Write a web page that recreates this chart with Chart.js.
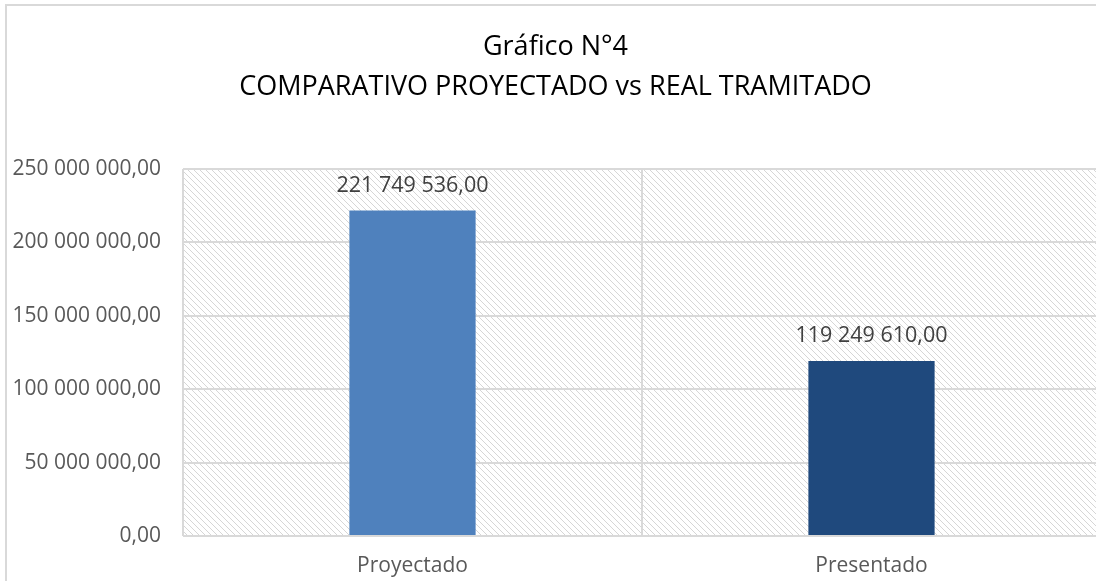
<!DOCTYPE html>
<html>
<head>
<meta charset="utf-8">
<script src="https://cdn.jsdelivr.net/npm/chart.js@4"></script>
<style>
  html, body { margin: 0; padding: 0; background: #fff; overflow: hidden; }
  #wrap { width: 1104px; height: 581px; position: relative; }
</style>
</head>
<body>
<div id="wrap"><canvas id="chart"></canvas></div>
<script>
// chart data
const categories = ['Proyectado', 'Presentado'];
const values = [221749536, 119249610];
const barColors = ['#4F81BD', '#1F497D'];
const titleLines = ['Gráfico N°4', 'COMPARATIVO PROYECTADO vs REAL TRAMITADO'];

// 250 000 000,00 style
function fmt(v) {
  const parts = Number(v).toFixed(2).split('.');
  return parts[0].replace(/\B(?=(\d{3})+(?!\d))/g, ' ') + ',' + parts[1];
}

function hatchPattern(ctx) {
  const s = 6;
  const c = document.createElement('canvas');
  c.width = s; c.height = s;
  const g = c.getContext('2d');
  g.fillStyle = '#ffffff';
  g.fillRect(0, 0, s, s);
  g.strokeStyle = '#d6d6d6';
  g.lineWidth = 1;
  g.beginPath();
  g.moveTo(-1, -1); g.lineTo(s + 1, s + 1);
  g.moveTo(-1, s - 1); g.lineTo(1, s + 1);
  g.moveTo(s - 1, -1); g.lineTo(s + 1, 1);
  g.stroke();
  return ctx.createPattern(c, 'repeat');
}

const backdrop = {
  id: 'backdrop',
  beforeDraw(chart) {
    const { ctx, chartArea: a } = chart;
    ctx.save();
    ctx.strokeStyle = '#d9d9d9';
    ctx.lineWidth = 2;
    ctx.beginPath();
    ctx.moveTo(6, chart.height);
    ctx.lineTo(6, 5);
    ctx.lineTo(chart.width, 5);
    ctx.stroke();
    ctx.fillStyle = hatchPattern(ctx);
    ctx.fillRect(a.left, a.top, a.right - a.left, a.bottom - a.top);
    ctx.restore();
  }
};

const valueLabels = {
  id: 'valueLabels',
  afterDatasetsDraw(chart) {
    const { ctx } = chart;
    const meta = chart.getDatasetMeta(0);
    ctx.save();
    ctx.font = '21.5px "Open Sans", sans-serif';
    ctx.fillStyle = '#404040';
    ctx.textAlign = 'center';
    ctx.textBaseline = 'middle';
    meta.data.forEach((bar, i) => {
      ctx.fillText(fmt(values[i]), bar.x, bar.y - 25);
    });
    ctx.restore();
  }
};

new Chart(document.getElementById('chart'), {
  type: 'bar',
  data: {
    labels: categories,
    datasets: [{
      data: values,
      backgroundColor: barColors,
      categoryPercentage: 1,
      barPercentage: 0.275
    }]
  },
  options: {
    responsive: true,
    maintainAspectRatio: false,
    animation: false,
    layout: { padding: { left: 10, right: 3, top: 0, bottom: 0 } },
    plugins: {
      legend: { display: false },
      tooltip: { enabled: false },
      title: {
        display: true,
        text: titleLines,
        color: '#000',
        font: { family: '"Open Sans", sans-serif', size: 27, weight: 'normal', lineHeight: 1.48 },
        padding: { top: 27, bottom: 62 }
      }
    },
    scales: {
      x: {
        grid: { color: '#d9d9d9', lineWidth: 2, offset: true, drawTicks: false },
        border: { display: false },
        ticks: { color: '#595959', font: { family: '"Open Sans", sans-serif', size: 21 }, padding: 17, maxRotation: 0 },
        afterFit: s => { s.height = 45; }
      },
      y: {
        min: 0,
        max: 250000000,
        ticks: {
          stepSize: 50000000,
          color: '#595959',
          font: { family: '"Open Sans", sans-serif', size: 21 },
          padding: 22,
          callback: v => fmt(v)
        },
        grid: { color: '#d9d9d9', lineWidth: 2, drawTicks: false },
        border: { display: false },
        afterFit: s => { s.width = 173; }
      }
    }
  },
  plugins: [backdrop, valueLabels]
});
</script>
</body>
</html>
